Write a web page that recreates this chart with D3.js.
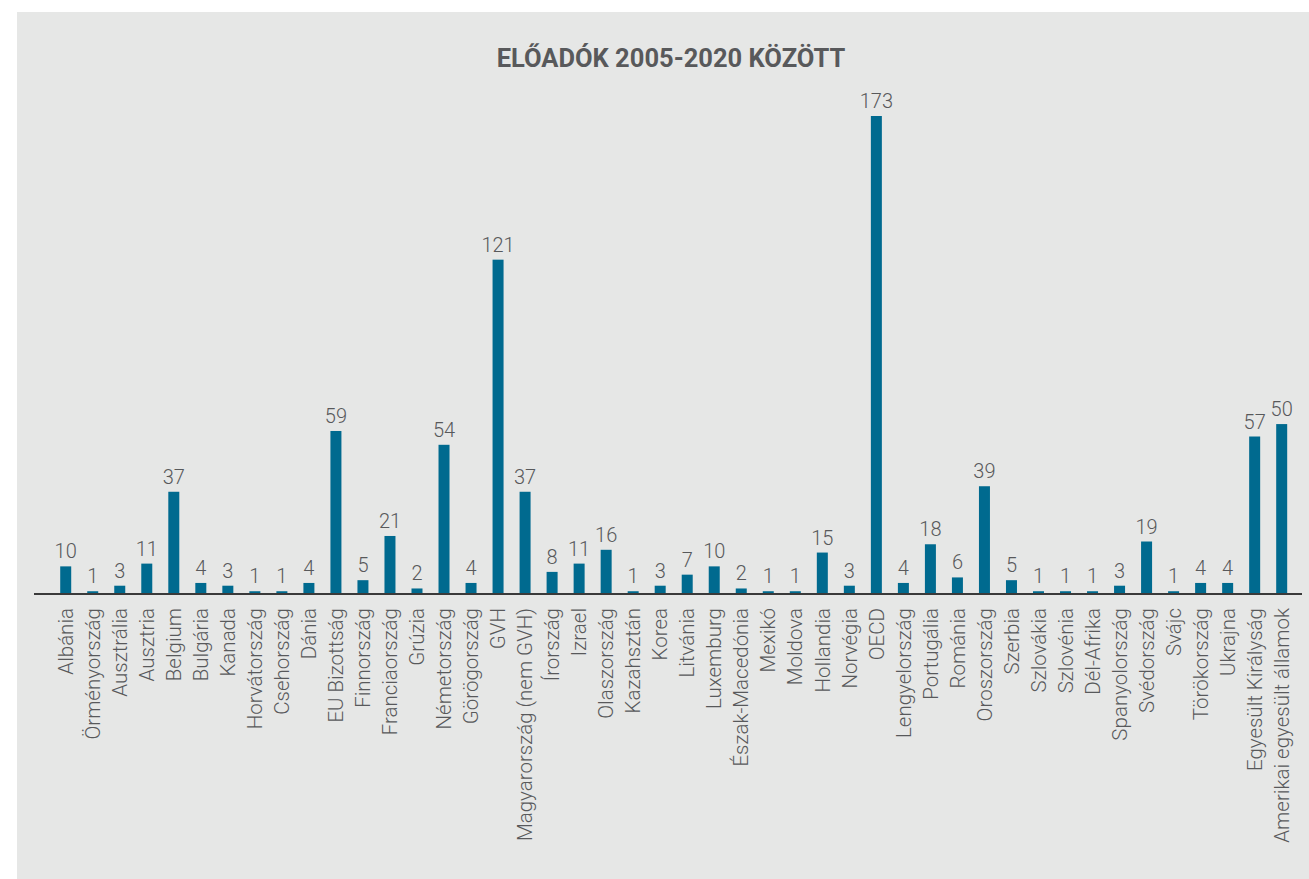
<!DOCTYPE html>
<html><head><meta charset="utf-8">
<script src="https://cdn.jsdelivr.net/npm/d3@7"></script>
<style>body{margin:0;background:#fff}svg{display:block}</style>
</head><body>
<svg id="c" width="1309" height="879"></svg>
<script>
const categories = ["Albánia","Örményország","Ausztrália","Ausztria","Belgium","Bulgária","Kanada","Horvátország","Csehország","Dánia","EU Bizottság","Finnország","Franciaország","Grúzia","Németország","Görögország","GVH","Magyarország (nem GVH)","Írország","Izrael","Olaszország","Kazahsztán","Korea","Litvánia","Luxemburg","Észak-Macedónia","Mexikó","Moldova","Hollandia","Norvégia","OECD","Lengyelország","Portugália","Románia","Oroszország","Szerbia","Szlovákia","Szlovénia","Dél-Afrika","Spanyolország","Svédország","Svájc","Törökország","Ukrajna","Egyesült Királyság","Amerikai egyesült államok"];
// bar heights as drawn in the picture (the last bar is drawn taller than its printed label)
const values = [10,1,3,11,37,4,3,1,1,4,59,5,21,2,54,4,121,37,8,11,16,1,3,7,10,2,1,1,15,3,173,4,18,6,39,5,1,1,1,3,19,1,4,4,57,61.5];
// printed value labels
const valueLabels = ["10","1","3","11","37","4","3","1","1","4","59","5","21","2","54","4","121","37","8","11","16","1","3","7","10","2","1","1","15","3","173","4","18","6","39","5","1","1","1","3","19","1","4","4","57","50"];
const title = "ELŐADÓK 2005-2020 KÖZÖTT";

const svg = d3.select("#c");
const font = "Roboto, 'Noto Sans', sans-serif";
svg.append("rect").attr("x",17).attr("y",12).attr("width",1309-17).attr("height",879-12).attr("fill","#e6e7e6");

svg.append("text").attr("x",671).attr("y",67).attr("text-anchor","middle")
  .attr("font-family",font).attr("font-weight",700).attr("font-size",25.5)
  .attr("fill","#58595b").text(title);

const x = d3.scaleBand().domain(categories).range([52.2,1295.2]).paddingInner(0.593).paddingOuter(0.2965);
const y = d3.scaleLinear().domain([0,173]).range([594,116]);

const data = categories.map((c,i)=>({c, v: values[i], t: valueLabels[i]}));

svg.selectAll("rect.bar").data(data).join("rect").attr("class","bar")
  .attr("x",d=>x(d.c)).attr("width",x.bandwidth())
  .attr("y",d=>y(d.v)).attr("height",d=>y(0)-y(d.v))
  .attr("fill","#006a8f");

svg.selectAll("text.val").data(data).join("text").attr("class","val")
  .attr("x",d=>x(d.c)+x.bandwidth()/2).attr("y",d=>y(d.v)-8)
  .attr("text-anchor","middle").attr("font-family",font).attr("font-size",20).attr("font-weight",300)
  .attr("fill","#58595b").text(d=>d.t);

const axis = d3.axisBottom(x).tickSize(0).tickPadding(0);
const g = svg.append("g").attr("transform","translate(0,594)").call(axis);
g.select(".domain").remove();
g.append("line").attr("x1",34).attr("x2",1302).attr("y1",0).attr("y2",0).attr("stroke","#3a3a3a").attr("stroke-width",2);
g.selectAll(".tick text")
  .attr("font-family",font).attr("font-size",20.5).attr("font-weight",300).attr("fill","#58595b")
  .attr("transform","rotate(-90)").attr("text-anchor","end")
  .attr("x",-14).attr("y",0).attr("dy","0.35em");
</script>
</body></html>
